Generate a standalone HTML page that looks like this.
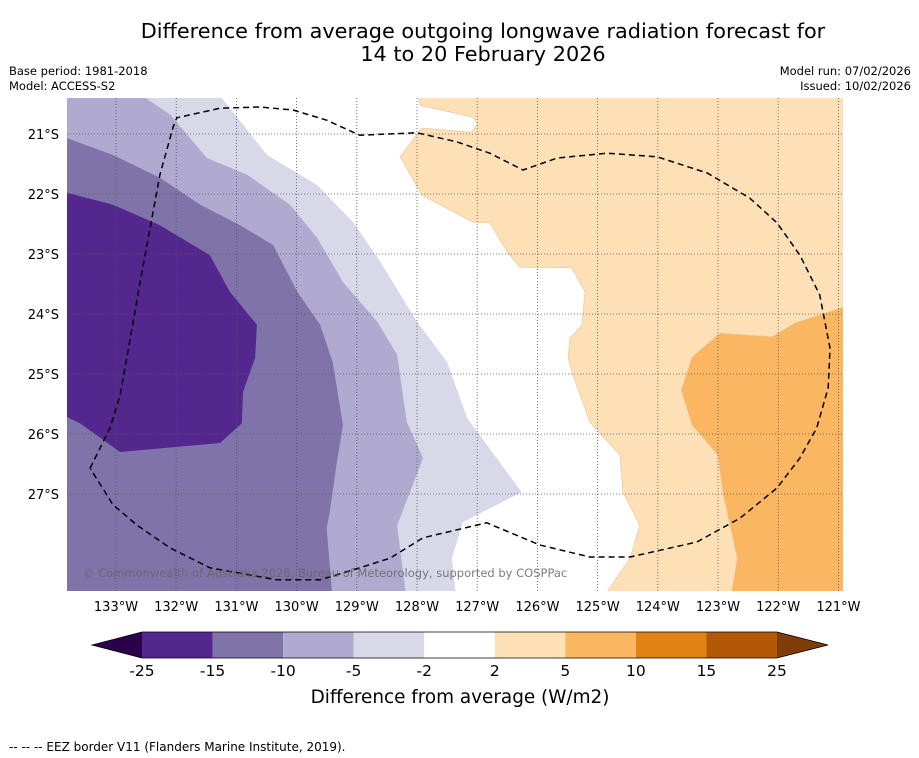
<!DOCTYPE html>
<html><head><meta charset="utf-8"><style>
body{margin:0;background:#fff;width:919px;height:758px;overflow:hidden;font-family:"Liberation Sans","DejaVu Sans",sans-serif}
svg{position:absolute;left:0;top:0}
</style></head><body>
<svg id="c" width="919" height="758" font-family="DejaVu Sans, Liberation Sans, sans-serif">
<text x="483" y="38" text-anchor="middle" font-size="20.8">Difference from average outgoing longwave radiation forecast for</text>
<text x="483" y="61" text-anchor="middle" font-size="20.8">14 to 20 February 2026</text>
<text x="9" y="75" font-size="11.5">Base period: 1981-2018</text>
<text x="9" y="90" font-size="11.5">Model: ACCESS-S2</text>
<text x="911" y="75" font-size="11.5" text-anchor="end">Model run: 07/02/2026</text>
<text x="911" y="90" font-size="11.5" text-anchor="end">Issued: 10/02/2026</text>
<defs><clipPath id="mc"><rect x="67" y="98" width="776" height="493"/></clipPath></defs>
<g id="map" clip-path="url(#mc)"></g>
<g id="axes"></g>
<g id="cbar"></g>
<text x="460" y="703" text-anchor="middle" font-size="18.4">Difference from average (W/m2)</text>
<text x="9" y="751" font-size="12">--  --  -- EEZ border V11 (Flanders Marine Institute, 2019).</text>
</svg>
<script>
const lonTicks=[-133,-132,-131,-130,-129,-128,-127,-126,-125,-124,-123,-122,-121];
const latTicks=[-21,-22,-23,-24,-25,-26,-27];
const levels=[-25,-15,-10,-5,-2,2,5,10,15,25];
const levelColors=['#54278f','#7f73a9','#b0aad0','#d8d8e9','#ffffff','#fde0b6','#fbb662','#e08214','#b35806'];
const extendColors=['#2d004b','#7f3b08'];
// contour polygons (lon, lat)
const band_m5_lon=[-134,-131.32,-130.49,-129.66,-129.06,-128.61,-128.0,-127.5,-127.17,-126.26,-127.24,-127.42,-127.34,-134];
const band_m5_lat=[-20.3,-20.3,-21.35,-21.85,-22.47,-23.13,-24.13,-24.8,-25.73,-26.97,-27.47,-28.07,-28.8,-28.8];
const band_m10_lon=[-134,-132.65,-132.1,-131.49,-130.82,-130.11,-129.66,-129.23,-128.66,-128.33,-128.17,-127.9,-128.07,-128.33,-128.17,-134];
const band_m10_lat=[-20.3,-20.3,-20.68,-21.4,-21.68,-22.18,-22.73,-23.47,-24.13,-24.68,-25.8,-26.4,-26.85,-27.52,-28.8,-28.8];
const band_m15_lon=[-134,-133.81,-133.05,-132.27,-131.6,-130.94,-130.39,-129.99,-129.61,-129.4,-129.23,-129.33,-129.45,-129.5,-129.4,-134];
const band_m15_lat=[-21.07,-21.07,-21.35,-21.73,-22.18,-22.52,-22.85,-23.63,-24.18,-24.8,-25.85,-26.47,-27.3,-27.57,-28.8,-28.8];
const band_m25_lon=[-134,-133.05,-132.27,-131.44,-131.11,-130.66,-130.69,-130.89,-130.91,-131.27,-132.93,-133.6,-134];
const band_m25_lat=[-21.93,-22.18,-22.52,-23.02,-23.63,-24.18,-24.73,-25.3,-25.82,-26.15,-26.3,-25.82,-25.63];
const band_p2_lon=[-128.0,-127.95,-127.07,-126.99,-127.09,-127.92,-128.28,-127.92,-127.07,-126.79,-126.5,-126.29,-125.43,-125.21,-125.26,-125.46,-125.49,-125.41,-125.13,-124.63,-124.58,-124.3,-124.46,-124.96,-120.5,-120.5];
const band_p2_lat=[-20.3,-20.52,-20.72,-20.82,-20.97,-20.9,-21.38,-22.02,-22.47,-22.48,-22.97,-23.22,-23.23,-23.63,-24.18,-24.4,-24.73,-25.02,-25.8,-26.35,-26.97,-27.52,-28.07,-28.8,-28.8,-20.3];
const band_p5_lon=[-120.5,-121.72,-122.1,-122.97,-123.43,-123.61,-123.43,-123.0,-122.92,-122.68,-122.8,-120.5];
const band_p5_lat=[-23.75,-24.15,-24.38,-24.32,-24.72,-25.27,-25.85,-26.35,-26.97,-28.07,-28.8,-28.8];
const eez_lon=[-133.43,-133.1,-132.93,-132.6,-132.27,-132.05,-131.99,-131.27,-130.61,-130.06,-129.5,-128.95,-128.0,-127.34,-126.79,-126.24,-125.67,-124.84,-124.01,-123.18,-122.47,-122.02,-121.64,-121.31,-121.14,-121.17,-121.36,-121.64,-122.02,-122.63,-123.35,-124.46,-125.13,-125.96,-126.84,-127.9,-128.45,-128.95,-129.61,-130.33,-131.44,-132.1,-132.65,-133.05,-133.43];
const eez_lat=[-26.57,-25.9,-25.35,-23.47,-21.68,-20.88,-20.73,-20.57,-20.55,-20.6,-20.77,-21.02,-20.98,-21.13,-21.32,-21.6,-21.4,-21.32,-21.38,-21.65,-22.07,-22.48,-23.02,-23.68,-24.57,-25.23,-25.9,-26.4,-26.9,-27.4,-27.8,-28.05,-28.05,-27.85,-27.48,-27.73,-28.07,-28.23,-28.43,-28.43,-28.23,-27.9,-27.52,-27.18,-26.57];

const NS='http://www.w3.org/2000/svg';
const X=lon=>116+(lon+133)*60.2;
const Y=lat=>134+(-21-lat)*60;
function mk(tag,attrs,parent){const e=document.createElementNS(NS,tag);for(const k in attrs)e.setAttribute(k,attrs[k]);parent.appendChild(e);return e;}
const map=document.getElementById('map');
function pts(lo,la){return lo.map((v,i)=>X(v).toFixed(1)+','+Y(la[i]).toFixed(1)).join(' ');}
let bg=mk('rect',{x:67,y:98,width:776,height:493,fill:'#ffffff'},map);


const bands=[[band_m5_lon,band_m5_lat,3,'band-minus5-to-minus2'],[band_m10_lon,band_m10_lat,2,'band-minus10-to-minus5'],[band_m15_lon,band_m15_lat,1,'band-minus15-to-minus10'],[band_m25_lon,band_m25_lat,0,'band-minus25-to-minus15'],[band_p2_lon,band_p2_lat,5,'band-2-to-5'],[band_p5_lon,band_p5_lat,6,'band-5-to-10']];
bands.forEach(b=>{const p=mk('polygon',{points:pts(b[0],b[1]),fill:levelColors[b[2]],stroke:b[2]>4?'#e8c49a':'none','stroke-width':0.6},map);

});
lonTicks.forEach(l=>{const g=mk('line',{x1:X(l),x2:X(l),y1:98,y2:591,stroke:'#555','stroke-width':0.8,'stroke-dasharray':'1,2'},map);

});
latTicks.forEach(l=>{const g=mk('line',{x1:67,x2:843,y1:Y(l),y2:Y(l),stroke:'#555','stroke-width':0.8,'stroke-dasharray':'1,2'},map);

});
const ez=mk('polyline',{points:pts(eez_lon,eez_lat),fill:'none',stroke:'#000','stroke-width':1.5,'stroke-dasharray':'6,4'},map);


const cp=mk('text',{x:83,y:577,'font-size':11.5,fill:'#666','fill-opacity':0.85},map);
cp.textContent='© Commonwealth of Australia 2026, Bureau of Meteorology, supported by COSPPac';


const ax=document.getElementById('axes');
lonTicks.forEach(l=>{const t=mk('text',{x:X(l),y:611,'font-size':13,'text-anchor':'middle'},ax);t.textContent=(-l)+'°W';

});
latTicks.forEach(l=>{const t=mk('text',{x:59,y:Y(l)+5,'font-size':13,'text-anchor':'end'},ax);t.textContent=(-l)+'°S';

});
const cb=document.getElementById('cbar');
const n=levels.length-1, cx0=142, cw=(777-142)/n;
for(let i=0;i<n;i++){const r=mk('rect',{x:cx0+i*cw,y:632,width:cw,height:26,fill:levelColors[i]},cb);

}
const tl=mk('polygon',{points:'92,645 142,632 142,658',fill:extendColors[0]},cb);


const tr=mk('polygon',{points:'828,645 777,632 777,658',fill:extendColors[1]},cb);


const ol=mk('polygon',{points:'92,645 142,632 777,632 828,645 777,658 142,658',fill:'none',stroke:'#000','stroke-width':0.8},cb);


levels.forEach((v,i)=>{const t=mk('text',{x:cx0+i*cw,y:676,'font-size':15.5,'text-anchor':'middle'},cb);t.textContent=v;

});
</script>
</body></html>
